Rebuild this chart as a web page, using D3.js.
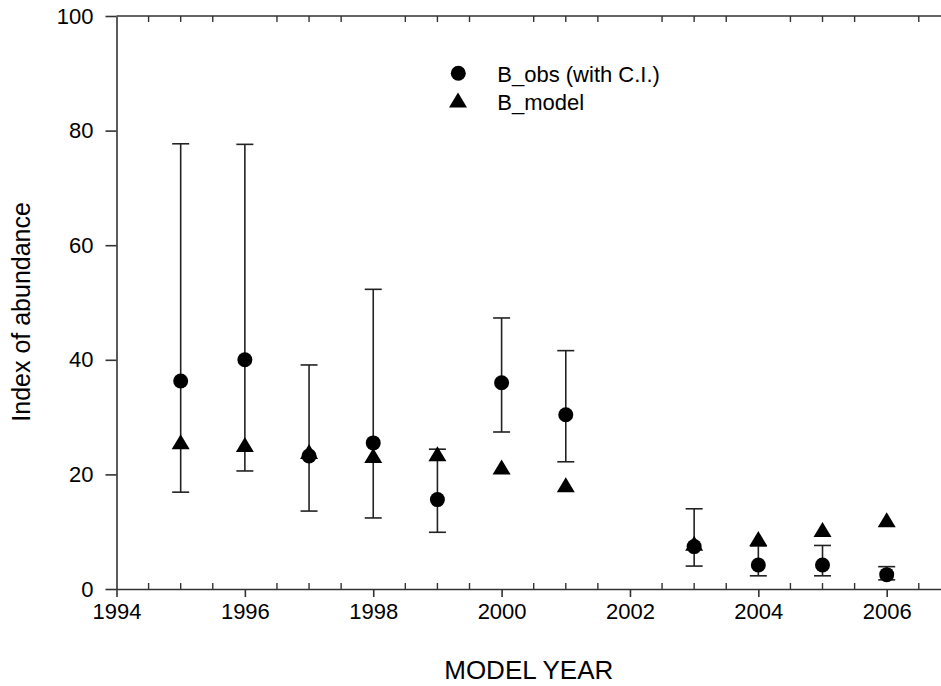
<!DOCTYPE html>
<html>
<head>
<meta charset="utf-8">
<script src="https://cdn.jsdelivr.net/npm/d3@7"></script>
<style>
  html, body { margin: 0; padding: 0; background: #fff; }
  svg { display: block; font-family: "Liberation Sans", Arial, sans-serif; }
</style>
</head>
<body>
<svg id="chart" width="941" height="686"></svg>
<script>
// ---- data ----
const years = [1995, 1996, 1997, 1998, 1999, 2000, 2001, 2003, 2004, 2005, 2006];
const bObs   = [36.3, 40.0, 23.2, 25.5, 15.6, 36.0, 30.4, 7.4, 4.2, 4.2, 2.5];
const ciLow  = [16.9, 20.6, 13.6, 12.4, 9.9, 27.4, 22.2, 4.0, 2.3, 2.3, 1.6];
const ciHigh = [77.7, 77.6, 39.1, 52.3, 24.4, 47.3, 41.6, 14.0, 7.5, 7.6, 3.9];
const bModel = [25.7, 25.2, 24.0, 23.3, 23.6, 21.3, 18.2, 8.0, 8.8, 10.4, 12.1];
const xTicks = [1994, 1996, 1998, 2000, 2002, 2004, 2006];
const yTicks = [0, 20, 40, 60, 80, 100];
const xLabel = "MODEL YEAR";
const yLabel = "Index of abundance";
const legendLabels = ["B_obs (with C.I.)", "B_model"];

(function () {
// ---- layout ----
const svg = d3.select("#chart");
const pLeft = 116.5, pRight = 941, pTop = 16, pBottom = 589;
const x = d3.scaleLinear().domain([1994, 2006.846]).range([pLeft, pRight]);
const y = d3.scaleLinear().domain([0, 100]).range([pBottom, pTop]);
const axisColor = "#333";

// minor ticks every half year
const minor = d3.range(1994, 2006.85, 0.5).filter(v => !xTicks.includes(v));

// bottom axis
const gx = svg.append("g").attr("transform", `translate(0,${pBottom})`)
  .call(d3.axisBottom(x).tickValues(xTicks).tickFormat(d3.format("d")).tickSize(8).tickPadding(6).tickSizeOuter(0));
gx.select(".domain").attr("stroke", axisColor).attr("stroke-width", 1.6);
gx.selectAll(".tick line").attr("stroke", axisColor).attr("stroke-width", 1.6);
gx.selectAll(".tick text").attr("font-size", 22).attr("fill", "#000")
  .attr("font-family", "Liberation Sans, Arial, sans-serif");
gx.selectAll(".minor").data(minor).enter().append("line")
  .attr("x1", d => x(d)).attr("x2", d => x(d)).attr("y1", 0).attr("y2", -6)
  .attr("stroke", axisColor).attr("stroke-width", 1.4);

// top axis (frame line with inward minor ticks)
const gt = svg.append("g").attr("transform", `translate(0,${pTop})`);
gt.append("line").attr("x1", pLeft).attr("x2", pRight).attr("y1", 0).attr("y2", 0)
  .attr("stroke", axisColor).attr("stroke-width", 1.6);
gt.selectAll(".minor").data(minor).enter().append("line")
  .attr("x1", d => x(d)).attr("x2", d => x(d)).attr("y1", 0).attr("y2", 6)
  .attr("stroke", axisColor).attr("stroke-width", 1.4);

// left axis
const gy = svg.append("g").attr("transform", `translate(${pLeft},0)`)
  .call(d3.axisLeft(y).tickValues(yTicks).tickSize(11).tickPadding(12).tickSizeOuter(0));
gy.select(".domain").attr("stroke", axisColor).attr("stroke-width", 1.6);
gy.selectAll(".tick line").attr("stroke", axisColor).attr("stroke-width", 1.6);
gy.selectAll(".tick text").attr("font-size", 22).attr("fill", "#000")
  .attr("font-family", "Liberation Sans, Arial, sans-serif");

// axis titles
svg.append("text").attr("x", (pLeft + pRight) / 2).attr("y", 679)
  .attr("text-anchor", "middle").attr("font-size", 26).attr("fill", "#000").text(xLabel);
svg.append("text").attr("transform", "translate(30,421.7) rotate(-90)")
  .attr("text-anchor", "start").attr("font-size", 25).attr("fill", "#000").text(yLabel);

// data rows
const rows = years.map((yr, i) => ({ yr, obs: bObs[i], lo: ciLow[i], hi: ciHigh[i], mod: bModel[i] }));
const capHalf = 8.5;
const barColor = "#222";

const eb = svg.append("g");
rows.forEach(d => {
  eb.append("line").attr("x1", x(d.yr)).attr("x2", x(d.yr)).attr("y1", y(d.lo)).attr("y2", y(d.hi))
    .attr("stroke", barColor).attr("stroke-width", 1.6);
  [d.lo, d.hi].forEach(v => {
    eb.append("line").attr("x1", x(d.yr) - capHalf).attr("x2", x(d.yr) + capHalf)
      .attr("y1", y(v)).attr("y2", y(v)).attr("stroke", barColor).attr("stroke-width", 1.6);
  });
});

// circles
svg.append("g").selectAll("circle").data(rows).enter().append("circle")
  .attr("cx", d => x(d.yr)).attr("cy", d => y(d.obs)).attr("r", 7.5).attr("fill", "#000");

// triangles
const tri = "M0,-7.5L9,7.5L-9,7.5Z";
svg.append("g").selectAll("path").data(rows).enter().append("path")
  .attr("d", tri).attr("transform", d => `translate(${x(d.yr)},${y(d.mod)})`).attr("fill", "#000");

// legend
const lg = svg.append("g");
lg.append("circle").attr("cx", 458.3).attr("cy", 73.3).attr("r", 7.5).attr("fill", "#000");
lg.append("path").attr("d", tri).attr("transform", "translate(458,100)").attr("fill", "#000");
lg.append("text").attr("x", 497.3).attr("y", 82.3).attr("font-size", 22).attr("fill", "#000").text(legendLabels[0]);
lg.append("text").attr("x", 497.3).attr("y", 110).attr("font-size", 22).attr("fill", "#000").text(legendLabels[1]);
})();
</script>
</body>
</html>
